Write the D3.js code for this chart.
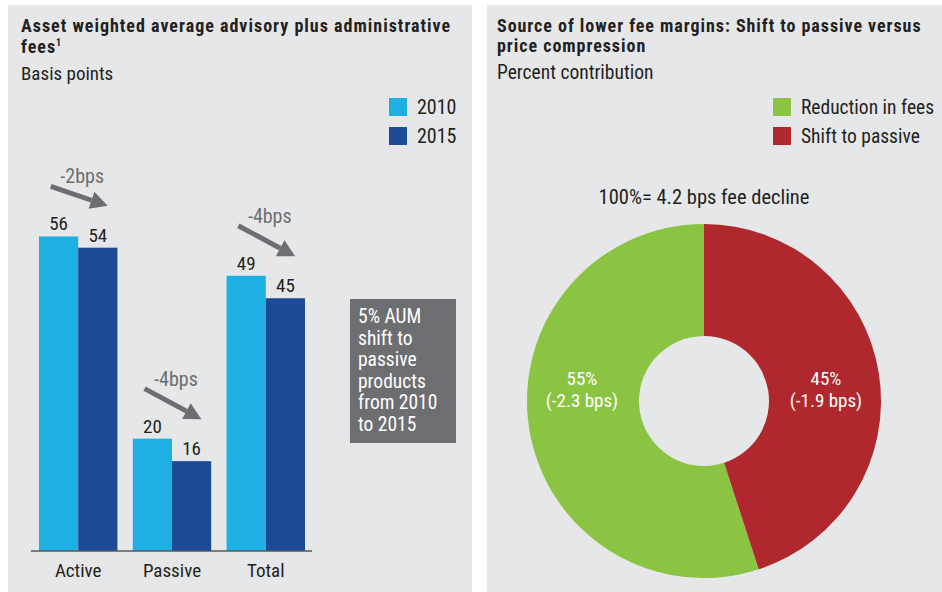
<!DOCTYPE html>
<html>
<head>
<meta charset="utf-8">
<script src="https://cdn.jsdelivr.net/npm/d3@7"></script>
<style>
body { margin: 0; background: #fff; }
text { font-family: "Liberation Sans Narrow", "Roboto Condensed", "Arial Narrow", sans-serif; fill: #231f20; }
</style>
</head>
<body>
<div id="chart"></div>
<script>
// bar chart data (basis points)
var categories = ["Active", "Passive", "Total"];
var years = ["2010", "2015"];
var fees2010 = [56, 20, 49];
var fees2015 = [54, 16, 45];
var changeLabels = ["-2bps", "-4bps", "-4bps"];
var noteLines = ["5% AUM", "shift to", "passive", "products", "from 2010", "to 2015"];

// donut data
var sources = ["Reduction in fees", "Shift to passive"];
var sharePct = [55, 45];
var shareBps = [-2.3, -1.9];
var totalDecline = 4.2;

var yearColors = ["#1fb0e3", "#1c4a96"];
var sourceColors = ["#8bc443", "#b0282d"];
var grey = "#6d6e71";

var svg = d3.select("#chart")
    .append("svg")
    .attr("width", 942)
    .attr("height", 592);

// panel backgrounds
svg.append("rect").attr("x", 8).attr("y", 5).attr("width", 464).attr("height", 587).attr("fill", "#e6e7e9");
svg.append("rect").attr("x", 487).attr("y", 5).attr("width", 455).attr("height", 587).attr("fill", "#e6e7e9");

// ---------- left panel ----------
var left = svg.append("g");

left.append("text").attr("x", 21).attr("y", 32)
    .style("font-size", "18px").style("font-weight", "bold").style("letter-spacing", "1px")
    .text("Asset weighted average advisory plus administrative");
var t2 = left.append("text").attr("x", 21).attr("y", 53)
    .style("font-size", "18px").style("font-weight", "bold").style("letter-spacing", "1px")
    .text("fees");
t2.append("tspan").attr("dy", -7).style("font-size", "10px").text("1");
left.append("text").attr("x", 21).attr("y", 80).style("font-size", "19px").text("Basis points");

// legend
var legL = left.selectAll(".legYear")
    .data(years)
    .enter()
    .append("g")
    .attr("transform", function(d, i) { return "translate(389," + (98 + i * 29) + ")"; });
legL.append("rect").attr("width", 18).attr("height", 18).attr("fill", function(d, i) { return yearColors[i]; });
legL.append("text").attr("x", 28).attr("y", 16).style("font-size", "20px").text(function(d) { return d; });

// scales
var xGroup = d3.scaleBand().domain(categories).range([39, 305]).paddingInner(0.164).paddingOuter(0);
var xYear = d3.scaleBand().domain(years).range([0, xGroup.bandwidth()]).padding(0);
var yBar = d3.scaleLinear().domain([0, 60]).range([551, 214]);

var rows = categories.map(function(c, i) {
    return { cat: c, vals: [fees2010[i], fees2015[i]], change: changeLabels[i] };
});

var groups = left.selectAll(".grp")
    .data(rows)
    .enter()
    .append("g")
    .attr("transform", function(d) { return "translate(" + xGroup(d.cat) + ",0)"; });

groups.selectAll("rect")
    .data(function(d) { return d.vals; })
    .enter()
    .append("rect")
    .attr("x", function(d, i) { return xYear(years[i]); })
    .attr("y", function(d) { return yBar(d); })
    .attr("width", xYear.bandwidth())
    .attr("height", function(d) { return yBar(0) - yBar(d); })
    .attr("fill", function(d, i) { return yearColors[i]; });

groups.selectAll(".val")
    .data(function(d) { return d.vals; })
    .enter()
    .append("text")
    .attr("x", function(d, i) { return xYear(years[i]) + xYear.bandwidth() / 2; })
    .attr("y", function(d) { return yBar(d) - 6; })
    .attr("text-anchor", "middle")
    .style("font-size", "19px")
    .text(function(d) { return d; });

// change arrows
function drawArrow(g, x1, y1, x2, y2) {
    var ang = Math.atan2(y2 - y1, x2 - x1);
    var headLen = 17, headW = 9;
    var bx = x2 - headLen * Math.cos(ang), by = y2 - headLen * Math.sin(ang);
    g.append("line")
        .attr("x1", x1).attr("y1", y1).attr("x2", bx).attr("y2", by)
        .attr("stroke", grey).attr("stroke-width", 5);
    var px = -Math.sin(ang) * headW, py = Math.cos(ang) * headW;
    g.append("path")
        .attr("d", "M" + x2 + "," + y2 + "L" + (bx + px) + "," + (by + py) + "L" + (bx - px) + "," + (by - py) + "Z")
        .attr("fill", grey);
}

groups.each(function(d) {
    var g = d3.select(this);
    var x1 = xYear("2010") + xYear.bandwidth() * 0.3;
    var y1 = yBar(d.vals[0]) - 50;
    var x2 = xYear("2015") + xYear.bandwidth() * 0.75;
    var y2 = yBar(d.vals[1]) - 42;
    drawArrow(g, x1, y1, x2, y2);
    g.append("text")
        .attr("x", (x1 + x2) / 2 + 3)
        .attr("y", y1 - 3)
        .attr("text-anchor", "middle")
        .style("font-size", "20px")
        .style("fill", grey)
        .text(d.change);
});

// baseline
left.append("line")
    .attr("x1", xGroup.range()[0] - 8).attr("x2", xGroup.range()[1] + 7)
    .attr("y1", yBar(0)).attr("y2", yBar(0))
    .attr("stroke", "#58595b").attr("stroke-width", 1.5);

left.selectAll(".cat")
    .data(categories)
    .enter()
    .append("text")
    .attr("x", function(d) { return xGroup(d) + xGroup.bandwidth() / 2; })
    .attr("y", 577)
    .attr("text-anchor", "middle")
    .style("font-size", "19px")
    .text(function(d) { return d; });

// note box
left.append("rect").attr("x", 350).attr("y", 299).attr("width", 106).attr("height", 144).attr("fill", grey);
left.selectAll(".note")
    .data(noteLines)
    .enter()
    .append("text")
    .attr("x", 358)
    .attr("y", function(d, i) { return 323 + i * 21.5; })
    .style("font-size", "19.5px")
    .style("fill", "#fff")
    .text(function(d) { return d; });

// ---------- right panel ----------
var right = svg.append("g");

right.append("text").attr("x", 497).attr("y", 32)
    .style("font-size", "18px").style("font-weight", "bold").style("letter-spacing", "0.95px")
    .text("Source of lower fee margins: Shift to passive versus");
right.append("text").attr("x", 497).attr("y", 52)
    .style("font-size", "18px").style("font-weight", "bold").style("letter-spacing", "0.95px")
    .text("price compression");
right.append("text").attr("x", 497).attr("y", 79).style("font-size", "19.5px").text("Percent contribution");

var legR = right.selectAll(".legSrc")
    .data(sources)
    .enter()
    .append("g")
    .attr("transform", function(d, i) { return "translate(773," + (98 + i * 29) + ")"; });
legR.append("rect").attr("width", 18).attr("height", 18).attr("fill", function(d, i) { return sourceColors[i]; });
legR.append("text").attr("x", 28).attr("y", 16).style("font-size", "19.5px").text(function(d) { return d; });

right.append("text")
    .attr("x", 704).attr("y", 204)
    .attr("text-anchor", "middle")
    .style("font-size", "20.5px")
    .text("100%= " + totalDecline + " bps fee decline");

var cx = 704, cy = 401;
var pieData = sources.map(function(s, i) {
    return { name: s, pct: sharePct[i], bps: shareBps[i], color: sourceColors[i] };
});

var pie = d3.pie()
    .sort(null)
    .value(function(d) { return d.pct; })
    .startAngle(2 * Math.PI * sharePct[1] / 100)
    .endAngle(2 * Math.PI * (1 + sharePct[1] / 100));

var arc = d3.arc().innerRadius(65).outerRadius(177);

var donut = right.append("g").attr("transform", "translate(" + cx + "," + cy + ")");

var slices = donut.selectAll(".slice")
    .data(pie(pieData))
    .enter()
    .append("g");

slices.append("path")
    .attr("d", arc)
    .attr("fill", function(d) { return d.data.color; });

// two-line labels, one per line so they do not collide
slices.each(function(d) {
    var mid = (d.startAngle + d.endAngle) / 2;
    var side = Math.sin(mid) < 0 ? -1 : 1;
    var g = d3.select(this);
    var lines = [d.data.pct + "%", "(" + d.data.bps + " bps)"];
    g.selectAll(".lbl")
        .data(lines)
        .enter()
        .append("text")
        .attr("x", side * 122)
        .attr("y", function(t, i) { return -16 + i * 22; })
        .attr("text-anchor", "middle")
        .style("font-size", "19px")
        .style("fill", "#fff")
        .text(function(t) { return t; });
});
</script>
</body>
</html>
